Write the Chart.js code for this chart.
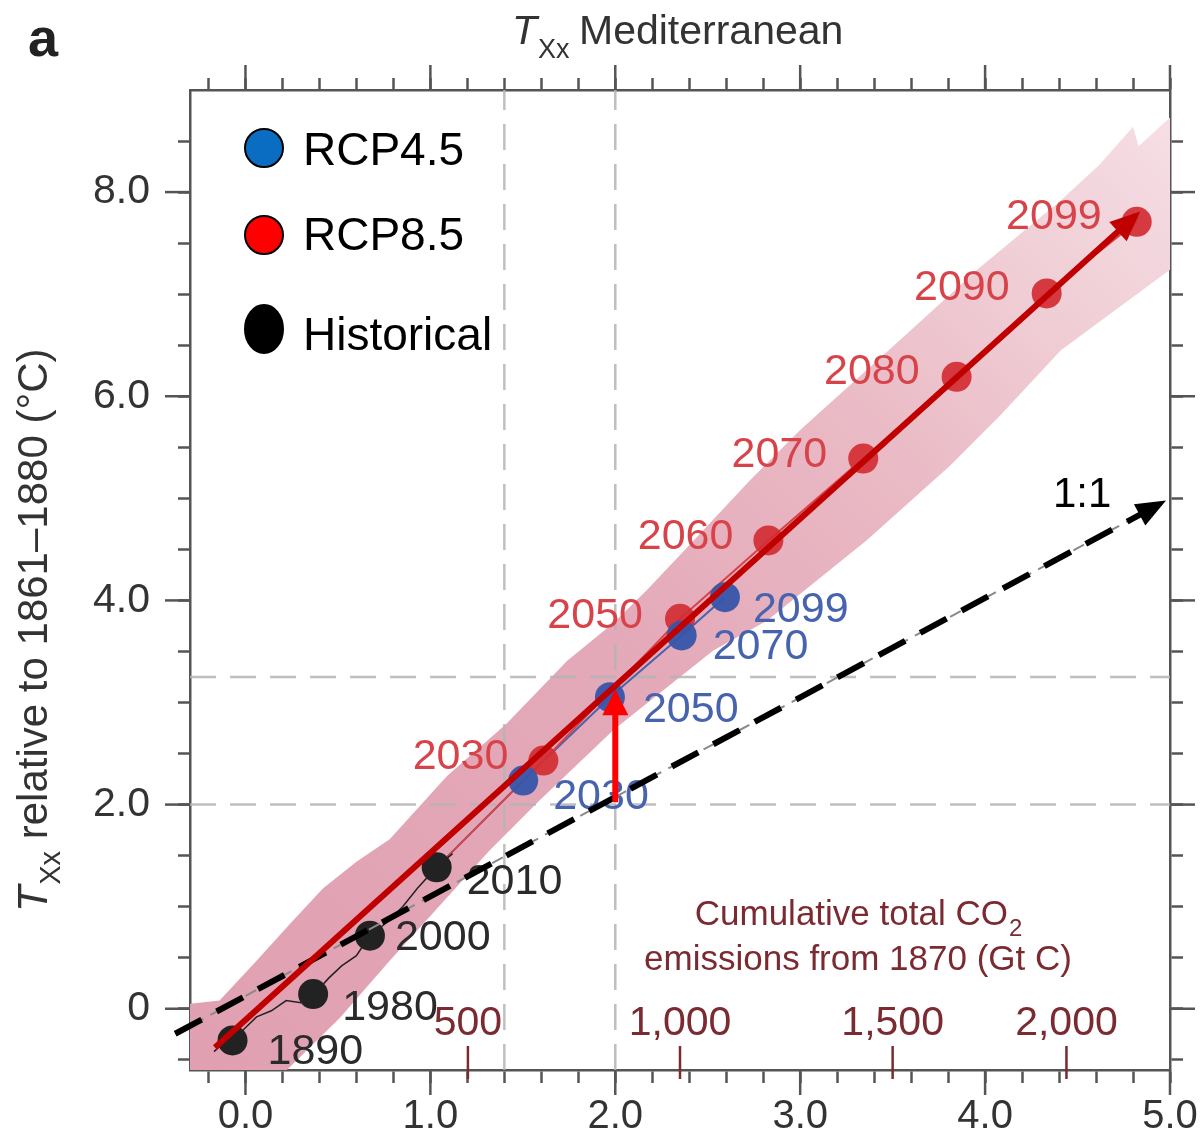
<!DOCTYPE html>
<html>
<head>
<meta charset="utf-8">
<script src="https://cdn.jsdelivr.net/npm/chart.js@4/dist/chart.umd.min.js"></script>
<style>
  html, body { margin: 0; padding: 0; background: #fff; }
  #wrap { width: 1204px; height: 1146px; position: relative; }
</style>
</head>
<body>
<div id="wrap"><canvas id="c" width="1204" height="1146"></canvas></div>
<script>
// ---------------- data ----------------
// Historical decades (x: mean warming, y: TXx warming, both °C)
const histYears = ['1890', '1980', '2000', '2010'];
const histX = [-0.07, 0.366, 0.673, 1.034];
const histY = [-0.31, 0.144, 0.716, 1.385];

// RCP4.5 projection
const rcp45Years = ['2030', '2050', '2070', '2099'];
const rcp45X = [1.502, 1.971, 2.359, 2.593];
const rcp45Y = [2.235, 3.052, 3.657, 4.032];

// RCP8.5 projection
const rcp85Years = ['2030', '2050', '2060', '2070', '2080', '2090', '2099'];
const rcp85X = [1.611, 2.35, 2.828, 3.341, 3.846, 4.333, 4.82];
const rcp85Y = [2.431, 3.82, 4.588, 5.389, 6.19, 7.007, 7.709];

// thin historical trace
const histTraceX = [-0.17, -0.1, -0.02, 0.06, 0.14, 0.22, 0.3, 0.37, 0.45, 0.52, 0.6, 0.67, 0.76, 0.85, 0.93, 1.03, 1.12];
const histTraceY = [-0.42, -0.3, -0.22, -0.08, -0.02, 0.08, 0.06, 0.14, 0.3, 0.42, 0.52, 0.71, 0.84, 1.0, 1.18, 1.38, 1.52];

// model spread envelope: upper edge left→right, lower edge right→left
const bandUpperX = [-0.35, -0.14, 0.06, 0.24, 0.42, 0.60, 0.78, 1.09, 1.41, 1.74, 1.99, 2.17, 2.40, 2.73, 3.00, 3.54, 3.97, 4.41, 4.62, 4.80, 4.83, 5.03];
const bandUpperY = [0.04, 0.08, 0.47, 0.83, 1.18, 1.44, 1.66, 2.28, 2.79, 3.41, 3.78, 4.10, 4.54, 5.18, 5.67, 6.55, 7.26, 7.92, 8.27, 8.64, 8.45, 8.78];
const bandLowerX = [5.03, 4.41, 4.08, 3.81, 3.36, 2.82, 2.53, 1.99, 1.59, 1.32, 1.05, 0.78, 0.51, 0.19, 0.02, -0.35];
const bandLowerY = [7.28, 6.45, 5.81, 5.32, 4.59, 3.80, 3.51, 2.73, 2.04, 1.55, 1.01, 0.47, -0.09, -0.66, -1.0, -1.0];

// arrows: overall trend, 1:1 reference, amplification at 2 °C
const trendX = [-0.165, 4.815];
const trendY = [-0.38, 7.77];
const oneToOneX = [-0.38, 4.95];
const oneToOneY = [-0.245, 4.95];
const jumpX = [2.0, 2.0];
const jumpY = [2.023, 3.07];

// reference levels
const refX = [1.4, 2.0];
const refY = [2.0, 3.25];

// axes
const X_MIN = -0.3, X_MAX = 5.0, Y_MIN = -0.6, Y_MAX = 9.0;
const xTicks = [-0.2, 0, 0.2, 0.4, 0.6, 0.8, 1, 1.2, 1.4, 1.6, 1.8, 2, 2.2, 2.4, 2.6, 2.8, 3, 3.2, 3.4, 3.6, 3.8, 4, 4.2, 4.4, 4.6, 4.8, 5];
const xMajor = [0, 1, 2, 3, 4, 5];
const xMajorLabels = ['0.0', '1.0', '2.0', '3.0', '4.0', '5.0'];
const yTicks = [-0.5, 0, 0.5, 1, 1.5, 2, 2.5, 3, 3.5, 4, 4.5, 5, 5.5, 6, 6.5, 7, 7.5, 8, 8.5];
const yMajor = [0, 2, 4, 6, 8];
const yMajorLabels = ['0', '2.0', '4.0', '6.0', '8.0'];

// cumulative CO2 emissions (Gt C) marked along the warming axis
const co2Labels = ['500', '1,000', '1,500', '2,000'];
const co2X = [1.203, 2.35, 3.5, 4.44];

// ---------------- styles ----------------
const FONT = '"Liberation Sans", Arial, Helvetica, sans-serif';
const AXIS = '#555';
const GRID = 'rgba(180,180,180,0.85)';
const DARKRED = '#7b2a31';
const labelStyle = {
  hist:  { color: '#2a2a2a', align: 'left',  dx: [35, 29, 25, 30], dy: [12, 14, 2, 15] },
  rcp45: { color: '#4763ae', align: 'left',  dx: [30, 33, 31, 28], dy: [17, 13, 12, 13] },
  rcp85: { color: '#d8434a', align: 'right', dx: [-35, -37, -35, -36, -37, -37, -35], dy: [-3, -3, -3, -3, -5, -5, -5] }
};
const bandStops = [[0, '#e0a0b1'], [0.45, '#e4aab9'], [0.56, '#e7b2bf'], [0.66, '#e9b9c4'], [0.75, '#edc4cd'], [0.83, '#f0ced5'], [0.92, '#f3d7de'], [1, '#f6e0e5']];

const P = (xs, ys) => xs.map((x, i) => ({ x, y: ys[i] }));

function bandFill(ctx) {
  const a = ctx.chart.chartArea;
  if (!a) return bandStops[0][1];
  const g = ctx.chart.ctx.createLinearGradient(a.left, a.bottom, a.right, a.top);
  bandStops.forEach(s => g.addColorStop(s[0], s[1]));
  return g;
}

// ---------------- datasets ----------------
const datasets = [];
datasets.push({
  id: 'band', type: 'line', showLine: true, data: P(bandUpperX, bandUpperY).concat(P(bandLowerX, bandLowerY)),
  fill: 'shape', backgroundColor: bandFill, borderWidth: 0, pointRadius: 0, order: 20
});
refX.forEach(v => datasets.push({
  type: 'line', showLine: true, data: [{ x: v, y: Y_MIN }, { x: v, y: Y_MAX }],
  borderColor: GRID, borderWidth: 2.5, borderDash: [26, 14], pointRadius: 0, fill: false, order: 18
}));
refY.forEach(v => datasets.push({
  type: 'line', showLine: true, data: [{ x: X_MIN, y: v }, { x: X_MAX, y: v }],
  borderColor: GRID, borderWidth: 2.5, borderDash: [26, 14], pointRadius: 0, fill: false, order: 18
}));
datasets.push({
  type: 'line', showLine: true, data: P(histTraceX, histTraceY),
  borderColor: '#222', borderWidth: 1.5, pointRadius: 0, fill: false, order: 16
});
datasets.push({
  type: 'line', showLine: true, data: [{ x: histX[3], y: histY[3] }].concat(P(rcp85X, rcp85Y)),
  borderColor: '#d8434a', borderWidth: 2, pointRadius: 0, fill: false, order: 16
});
datasets.push({
  type: 'line', showLine: true, data: [{ x: histX[3], y: histY[3] }].concat(P(rcp45X, rcp45Y)),
  borderColor: '#4763ae', borderWidth: 2, pointRadius: 0, fill: false, order: 16
});
datasets.push({
  id: 'rcp85', label: 'RCP8.5', type: 'scatter', data: P(rcp85X, rcp85Y),
  pointRadius: 15, pointBackgroundColor: 'rgba(210,45,50,0.92)', pointBorderWidth: 0, order: 14
});
datasets.push({
  id: 'rcp45', label: 'RCP4.5', type: 'scatter', data: P(rcp45X, rcp45Y),
  pointRadius: 15, pointBackgroundColor: 'rgba(55,85,170,0.95)', pointBorderWidth: 0, order: 13
});
datasets.push({
  id: 'hist', label: 'Historical', type: 'scatter', data: P(histX, histY),
  pointRadius: 15, pointBackgroundColor: '#222', pointBorderWidth: 0, order: 12
});
datasets.push({
  id: 'oneToOneThin', type: 'line', showLine: true, data: P(oneToOneX, oneToOneY),
  borderColor: '#8a8a8a', borderWidth: 2, borderDash: [12, 8], pointRadius: 0, fill: false, clip: false, order: 8
});
datasets.push({
  id: 'oneToOne', type: 'line', showLine: true, data: P(oneToOneX, oneToOneY),
  borderColor: '#000', borderWidth: 6, borderDash: [30, 17], pointRadius: 0, fill: false, clip: false, order: 7,
  arrowHead: { length: 30, width: 24, color: '#000' }
});
datasets.push({
  id: 'trend', type: 'line', showLine: true, data: P(trendX, trendY),
  borderColor: '#c00000', borderWidth: 6, pointRadius: 0, fill: false, clip: false, order: 6,
  arrowHead: { length: 30, width: 26, color: '#c00000' }
});
datasets.push({
  id: 'jump', type: 'line', showLine: true, data: P(jumpX, jumpY),
  borderColor: '#ff0000', borderWidth: 6, pointRadius: 0, fill: false, clip: false, order: 5,
  arrowHead: { length: 26, width: 26, color: '#ff0000' }
});

// ---------------- drawing helpers ----------------
function drawArrowHead(chart, meta, spec) {
  const pts = meta.data;
  if (pts.length < 2) return;
  const p0 = pts[pts.length - 2], p1 = pts[pts.length - 1];
  const ang = Math.atan2(p1.y - p0.y, p1.x - p0.x);
  const c = Math.cos(ang), s = Math.sin(ang);
  const tipX = p1.x + c * 6, tipY = p1.y + s * 6;
  const bx = tipX - c * spec.length, by = tipY - s * spec.length;
  const ctx = chart.ctx;
  ctx.save();
  ctx.setLineDash([]);
  ctx.fillStyle = spec.color;
  ctx.beginPath();
  ctx.moveTo(tipX, tipY);
  ctx.lineTo(bx - s * spec.width / 2, by + c * spec.width / 2);
  ctx.lineTo(bx + s * spec.width / 2, by - c * spec.width / 2);
  ctx.closePath();
  ctx.fill();
  ctx.restore();
}

function metaById(chart, id) {
  const i = chart.data.datasets.findIndex(d => d.id === id);
  return chart.getDatasetMeta(i);
}

function drawYearLabels(chart) {
  const ctx = chart.ctx;
  const series = [['hist', histYears], ['rcp45', rcp45Years], ['rcp85', rcp85Years]];
  ctx.save();
  ctx.font = '43px ' + FONT;
  ctx.textBaseline = 'middle';
  series.forEach(([id, years]) => {
    const st = labelStyle[id];
    const meta = metaById(chart, id);
    ctx.fillStyle = st.color;
    ctx.textAlign = st.align;
    years.forEach((yr, i) => {
      const el = meta.data[i];
      ctx.fillText(yr, el.x + st.dx[i], el.y + st.dy[i]);
    });
  });
  ctx.restore();
}

function line(ctx, x1, y1, x2, y2) {
  ctx.beginPath(); ctx.moveTo(x1, y1); ctx.lineTo(x2, y2); ctx.stroke();
}

const decor = {
  id: 'decor',
  beforeDatasetDraw(chart, args) {
    const ds = chart.data.datasets[args.index];
    if (ds.id === 'oneToOneThin') drawYearLabels(chart);
  },
  afterDatasetDraw(chart, args) {
    const ds = chart.data.datasets[args.index];
    if (ds.arrowHead) drawArrowHead(chart, args.meta, ds.arrowHead);
  },
  afterDraw(chart) {
    const ctx = chart.ctx;
    const a = chart.chartArea;
    const xs = chart.scales.x, ys = chart.scales.y;

    // longer marks at the labelled values on all four sides
    ctx.save();
    ctx.strokeStyle = AXIS;
    ctx.lineWidth = 2.5;
    xMajor.forEach(v => {
      const px = xs.getPixelForValue(v);
      line(ctx, px, a.bottom, px, a.bottom + 25);
      line(ctx, px, a.top, px, a.top - 25);
    });
    yMajor.forEach(v => {
      const py = ys.getPixelForValue(v);
      line(ctx, a.left, py, a.left - 25, py);
      line(ctx, a.right, py, a.right + 25, py);
    });
    ctx.restore();

    // cumulative emissions ticks and labels
    ctx.save();
    ctx.strokeStyle = DARKRED;
    ctx.fillStyle = DARKRED;
    ctx.lineWidth = 2.5;
    ctx.font = '41px ' + FONT;
    ctx.textAlign = 'center';
    ctx.textBaseline = 'middle';
    co2Labels.forEach((t, i) => {
      const px = xs.getPixelForValue(co2X[i]);
      line(ctx, px, a.bottom - 24, px, a.bottom + 9);
      ctx.fillText(t, px, a.bottom - 46);
    });
    ctx.font = '35px ' + FONT;
    ctx.textBaseline = 'alphabetic';
    ctx.textAlign = 'left';
    const l1 = 'Cumulative total CO';
    const w1 = ctx.measureText(l1).width;
    ctx.font = '24px ' + FONT;
    const wSub = ctx.measureText('2').width;
    const cx = 858;
    let x0 = cx - (w1 + wSub) / 2;
    ctx.font = '35px ' + FONT;
    ctx.fillText(l1, x0, 925);
    ctx.font = '24px ' + FONT;
    ctx.fillText('2', x0 + w1 + 1, 936);
    ctx.font = '35px ' + FONT;
    ctx.textAlign = 'center';
    ctx.fillText('emissions from 1870 (Gt C)', cx, 970);
    ctx.restore();

    // 1:1 annotation
    ctx.save();
    ctx.fillStyle = '#000';
    ctx.font = '42px ' + FONT;
    ctx.textAlign = 'left';
    ctx.textBaseline = 'alphabetic';
    ctx.fillText('1:1', 1053, 507);
    ctx.restore();

    // legend
    ctx.save();
    const leg = [
      { fill: '#0a6dc2', text: 'RCP4.5', cy: 148, ry: 19, base: 165 },
      { fill: '#ff0000', text: 'RCP8.5', cy: 235, ry: 19, base: 250 },
      { fill: '#000000', text: 'Historical', cy: 329, ry: 24, base: 350 }
    ];
    ctx.font = '46px ' + FONT;
    ctx.textAlign = 'left';
    ctx.textBaseline = 'alphabetic';
    leg.forEach(l => {
      ctx.beginPath();
      ctx.ellipse(264, l.cy, 19, l.ry, 0, 0, Math.PI * 2);
      ctx.fillStyle = l.fill;
      ctx.fill();
      ctx.lineWidth = 2;
      ctx.strokeStyle = '#000';
      ctx.stroke();
      ctx.fillStyle = '#000';
      ctx.fillText(l.text, 303, l.base);
    });
    ctx.restore();

    // panel letter and title
    ctx.save();
    ctx.fillStyle = '#222';
    ctx.font = 'bold 54px ' + FONT;
    ctx.textBaseline = 'alphabetic';
    ctx.fillText('a', 28, 56);
    ctx.fillStyle = '#333';
    ctx.font = 'italic 41px ' + FONT;
    ctx.fillText('T', 512, 44);
    const tw = ctx.measureText('T').width;
    ctx.font = '27px ' + FONT;
    ctx.fillText('Xx', 512 + tw + 1, 58);
    ctx.font = '41px ' + FONT;
    ctx.fillText('Mediterranean', 579, 44);
    ctx.restore();

    // y-axis title
    ctx.save();
    ctx.translate(47, 912);
    ctx.rotate(-Math.PI / 2);
    ctx.fillStyle = '#333';
    ctx.textBaseline = 'alphabetic';
    ctx.font = 'italic 43px ' + FONT;
    ctx.fillText('T', 0, 0);
    let off = ctx.measureText('T').width;
    ctx.font = '29px ' + FONT;
    ctx.fillText('Xx', off + 1, 13);
    off += ctx.measureText('Xx').width + 1;
    ctx.font = '42px ' + FONT;
    ctx.fillText(' relative to 1861\u20131880 (\u00B0C)', off, 0);
    ctx.restore();
  }
};

// ---------------- scales ----------------
const tickGrid = len => ({ drawOnChartArea: false, drawTicks: true, tickLength: len, tickWidth: 2.5, tickColor: AXIS });
const border = { display: true, color: AXIS, width: 2.5 };
// fixed outer sizes so the plotting frame lands at the same place whatever the label widths
const fixSize = (key, size) => s => {
  s[key] = size;
  s.paddingLeft = 0; s.paddingRight = 0; s.paddingTop = 0; s.paddingBottom = 0;
};

const chart = new Chart(document.getElementById('c'), {
  type: 'scatter',
  data: { datasets },
  options: {
    responsive: false,
    animation: false,
    devicePixelRatio: 1,
    layout: { padding: 0 },
    plugins: { legend: { display: false }, tooltip: { enabled: false } },
    scales: {
      x: {
        type: 'linear', position: 'bottom', min: X_MIN, max: X_MAX,
        afterBuildTicks: s => { s.ticks = xTicks.map(v => ({ value: v })); },
        afterFit: fixSize('height', 76),
        grid: tickGrid(13), border,
        ticks: {
          autoSkip: false, maxRotation: 0, padding: 10, color: '#333',
          font: { family: FONT, size: 40 },
          callback: v => { const i = xMajor.indexOf(v); return i >= 0 ? xMajorLabels[i] : ''; }
        }
      },
      x2: {
        type: 'linear', position: 'top', min: X_MIN, max: X_MAX,
        afterBuildTicks: s => { s.ticks = xTicks.map(v => ({ value: v })); },
        afterFit: fixSize('height', 90),
        grid: tickGrid(12), border,
        ticks: { display: false }
      },
      y: {
        type: 'linear', position: 'left', min: Y_MIN, max: Y_MAX,
        afterBuildTicks: s => { s.ticks = yTicks.map(v => ({ value: v })); },
        afterFit: fixSize('width', 190),
        grid: tickGrid(12), border,
        ticks: {
          autoSkip: false, padding: 28, color: '#333',
          font: { family: FONT, size: 41 },
          callback: v => { const i = yMajor.indexOf(v); return i >= 0 ? yMajorLabels[i] : ''; }
        }
      },
      y2: {
        type: 'linear', position: 'right', min: Y_MIN, max: Y_MAX,
        afterBuildTicks: s => { s.ticks = yTicks.map(v => ({ value: v })); },
        afterFit: fixSize('width', 34),
        grid: tickGrid(13), border,
        ticks: { display: false }
      }
    }
  },
  plugins: [decor]
});
</script>
</body>
</html>
